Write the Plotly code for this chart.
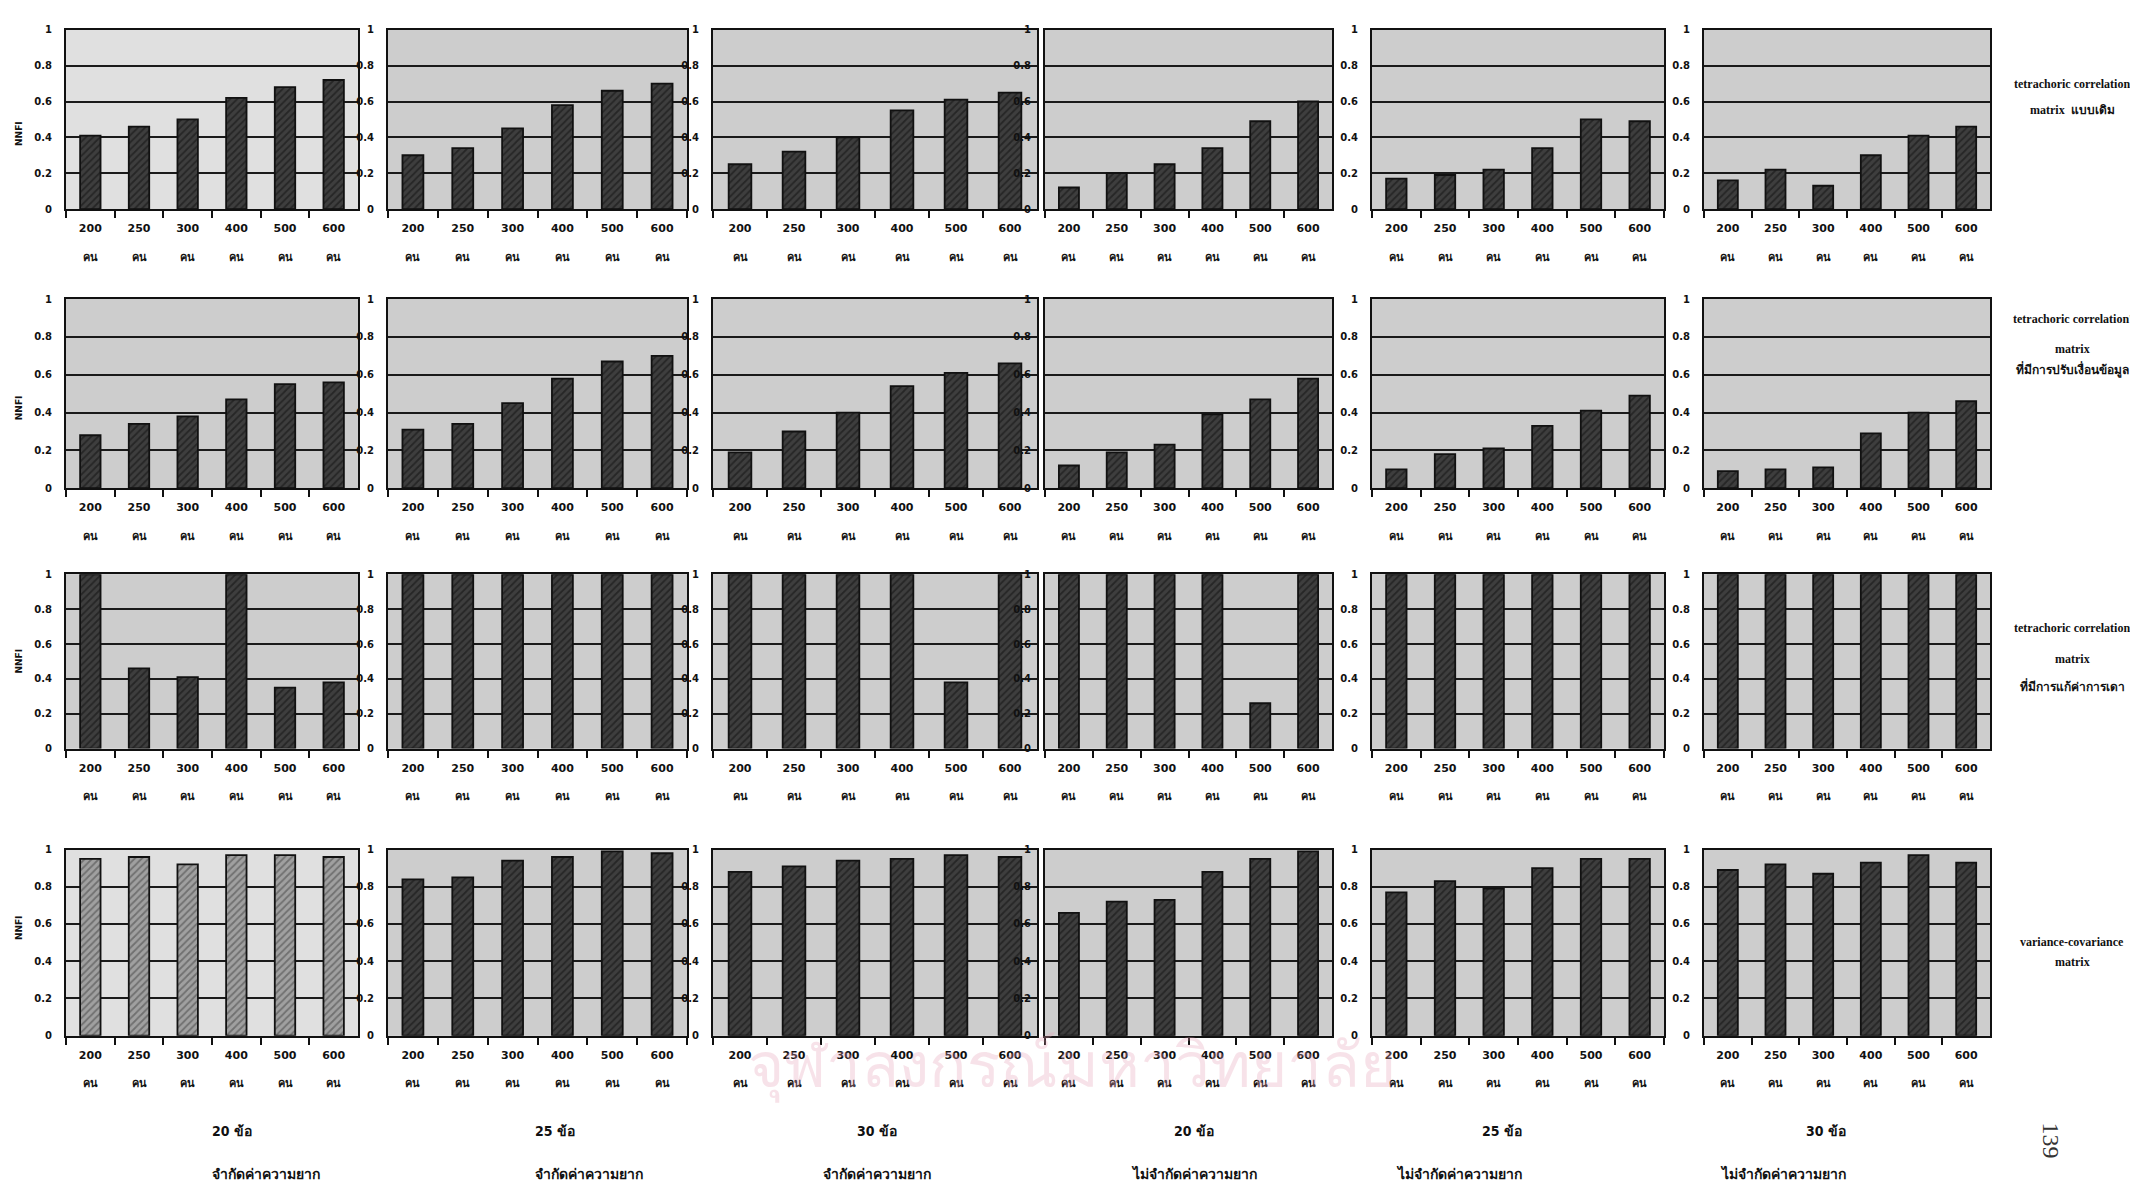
import plotly.graph_objects as go

# ---------------- data ----------------
sample_sizes = ["200", "250", "300", "400", "500", "600"]
unit_label = "คน"
y_tick_vals = [0, 0.2, 0.4, 0.6, 0.8, 1]
y_tick_text = ["0", "0.2", "0.4", "0.6", "0.8", "1"]

# row 1: tetrachoric correlation matrix (original)
nnfi_tetra_original = [
    [0.41, 0.46, 0.50, 0.62, 0.68, 0.72],
    [0.30, 0.34, 0.45, 0.58, 0.66, 0.70],
    [0.25, 0.32, 0.40, 0.55, 0.61, 0.65],
    [0.12, 0.20, 0.25, 0.34, 0.49, 0.60],
    [0.17, 0.19, 0.22, 0.34, 0.50, 0.49],
    [0.16, 0.22, 0.13, 0.30, 0.41, 0.46],
]
# row 2: tetrachoric correlation matrix, conditioned data
nnfi_tetra_conditioned = [
    [0.28, 0.34, 0.38, 0.47, 0.55, 0.56],
    [0.31, 0.34, 0.45, 0.58, 0.67, 0.70],
    [0.19, 0.30, 0.40, 0.54, 0.61, 0.66],
    [0.12, 0.19, 0.23, 0.39, 0.47, 0.58],
    [0.10, 0.18, 0.21, 0.33, 0.41, 0.49],
    [0.09, 0.10, 0.11, 0.29, 0.40, 0.46],
]
# row 3: tetrachoric correlation matrix, guessing corrected
nnfi_tetra_guessing = [
    [1.00, 0.46, 0.41, 1.00, 0.35, 0.38],
    [1.00, 1.00, 1.00, 1.00, 1.00, 1.00],
    [1.00, 1.00, 1.00, 1.00, 0.38, 1.00],
    [1.00, 1.00, 1.00, 1.00, 0.26, 1.00],
    [1.00, 1.00, 1.00, 1.00, 1.00, 1.00],
    [1.00, 1.00, 1.00, 1.00, 1.00, 1.00],
]
# row 4: variance-covariance matrix
nnfi_varcov = [
    [0.95, 0.96, 0.92, 0.97, 0.97, 0.96],
    [0.84, 0.85, 0.94, 0.96, 0.99, 0.98],
    [0.88, 0.91, 0.94, 0.95, 0.97, 0.96],
    [0.66, 0.72, 0.73, 0.88, 0.95, 0.99],
    [0.77, 0.83, 0.79, 0.90, 0.95, 0.95],
    [0.89, 0.92, 0.87, 0.93, 0.97, 0.93],
]
panel_rows = [nnfi_tetra_original, nnfi_tetra_conditioned, nnfi_tetra_guessing, nnfi_varcov]

row_labels = [
    ["tetrachoric correlation", "matrix  แบบเดิม"],
    ["tetrachoric correlation'", "matrix", "ที่มีการปรับเงื่อนข้อมูล"],
    ["tetrachoric correlation", "matrix", "ที่มีการแก้ค่าการเดา"],
    ["variance-covariance", "matrix"],
]
test_length_labels = ["20 ข้อ", "25 ข้อ", "30 ข้อ", "20 ข้อ", "25 ข้อ", "30 ข้อ"]
difficulty_labels = ["จำกัดค่าความยาก", "จำกัดค่าความยาก", "จำกัดค่าความยาก",
                     "ไม่จำกัดค่าความยาก", "ไม่จำกัดค่าความยาก", "ไม่จำกัดค่าความยาก"]
y_title = "NNFI"
page_number = "139"
watermark = "จุฬาลงกรณ์มหาวิทยาลัย"

# ---------------- layout geometry (pixels) ----------------
W, H = 2138, 1198
col_px = [(58, 350), (380, 679), (705, 1029), (1037, 1324), (1364, 1656), (1696, 1982)]
row_px = [(16, 197), (288, 479), (566, 742), (844, 1032)]
col_centers = [202, 525, 869, 1186, 1516, 1840]


def fx(px):
    return px / W


def fy(py):
    return 1 - py / H


Y_TICK_FONT = dict(family="DejaVu Sans, Noto Sans, sans-serif", size=10, color="#111", weight="bold")
X_TICK_FONT = dict(family="DejaVu Sans, Noto Sans, sans-serif", size=11, color="#111", weight="bold")

fig = go.Figure()
layout = dict(
    width=W, height=H, margin=dict(l=0, r=0, t=0, b=0),
    paper_bgcolor="white", plot_bgcolor="#d2d2d2",
    bargap=0.58, showlegend=False,
)
shapes = []
annotations = []

for r, row_data in enumerate(panel_rows):
    for c, vals in enumerate(row_data):
        k = r * 6 + c + 1
        xn = "x" if k == 1 else f"x{k}"
        yn = "y" if k == 1 else f"y{k}"
        light = (c == 0 and r == 3)
        bar_bg = "#a0a0a0" if light else "#3e3e3e"
        bar_fg = "#404040" if light else "#0d0d0d"
        fig.add_trace(go.Bar(
            x=sample_sizes, y=vals, xaxis=xn, yaxis=yn,
            marker=dict(color=bar_bg,
                        line=dict(color="#111", width=1.8),
                        pattern=dict(shape="/", fgcolor=bar_fg, bgcolor=bar_bg, size=5, solidity=0.35)),
            hoverinfo="x+y",
        ))
        x0, x1 = col_px[c]
        y0, y1 = row_px[r]
        layout["xaxis" if k == 1 else f"xaxis{k}"] = dict(
            domain=[fx(x0), fx(x1)], anchor=yn, type="category",
            tickvals=sample_sizes,
            ticktext=[f"{s}<br> <br>{unit_label}" for s in sample_sizes],
            ticks="outside", tickson="boundaries", ticklen=7, tickwidth=1.5, tickcolor="#111",
            showline=True, mirror=True, linecolor="#111", linewidth=2,
            showgrid=False, tickfont=X_TICK_FONT, ticklabelstandoff=8,
        )
        # background tint per panel
        bg = "#e0e0e0" if (c == 0 and r in (0, 3)) else "#cdcdcd"
        shapes.append(dict(type="rect", xref=f"{xn} domain", yref=f"{yn} domain",
                           x0=0, x1=1, y0=0, y1=1, fillcolor=bg, line=dict(width=0), layer="below"))
        layout["yaxis" if k == 1 else f"yaxis{k}"] = dict(
            domain=[fy(y1), fy(y0)], anchor=xn, range=[0, 1],
            tickvals=y_tick_vals, ticktext=y_tick_text,
            showgrid=True, gridcolor="#1a1a1a", gridwidth=1.6,
            showline=True, mirror=True, linecolor="#111", linewidth=2,
            zeroline=False, ticks="", tickfont=Y_TICK_FONT, ticklabelstandoff=10,
        )

    # y title on first column
    y0, y1 = row_px[r]
    annotations.append(dict(text=y_title, x=fx(4), y=fy((y0 + y1) / 2), xref="paper", yref="paper",
                            xanchor="left", showarrow=False, textangle=-90,
                            font=dict(family="DejaVu Sans", size=9, color="#111", weight="bold")))

# right-hand row labels
right_label_y = [[71, 97], [308, 338, 359], [620, 652, 679], [937, 958]]
for labels, ys in zip(row_labels, right_label_y):
    for txt, py in zip(labels, ys):
        thai_line = txt.startswith("ที่")
        annotations.append(dict(
            text=txt, x=fx(2064), y=fy(py), xref="paper", yref="paper", showarrow=False,
            xanchor="center", yanchor="middle",
            font=dict(family="Liberation Serif, DejaVu Serif, serif", size=12,
                      color="#111", weight="bold"),
        ))

# bottom column labels
for cx, t1, t2 in zip(col_centers, test_length_labels, difficulty_labels):
    annotations.append(dict(text=t1, x=fx(cx), y=fy(1138), xref="paper", yref="paper", showarrow=False,
                            font=dict(family="Liberation Sans Narrow, DejaVu Sans Condensed, sans-serif",
                                      size=14, color="#111", weight="bold")))
    annotations.append(dict(text=t2, x=fx(cx), y=fy(1182), xref="paper", yref="paper", showarrow=False,
                            font=dict(family="Liberation Sans Narrow, DejaVu Sans Condensed, sans-serif",
                                      size=14, color="#111", weight="bold")))

# page number (rotated)
annotations.append(dict(text=page_number, x=fx(2058), y=fy(1158), xref="paper", yref="paper",
                        showarrow=False, textangle=90,
                        font=dict(family="Liberation Serif, serif", size=24, color="#333")))

# faint scanned watermark text
annotations.append(dict(text=watermark, x=fx(1064), y=fy(1104), xref="paper", yref="paper",
                        showarrow=False, opacity=0.3,
                        font=dict(family="Noto Sans, sans-serif", size=62, color="#e7a3b8")))

layout["shapes"] = shapes
layout["annotations"] = annotations
fig.update_layout(**layout)
fig.write_html("out.html")
